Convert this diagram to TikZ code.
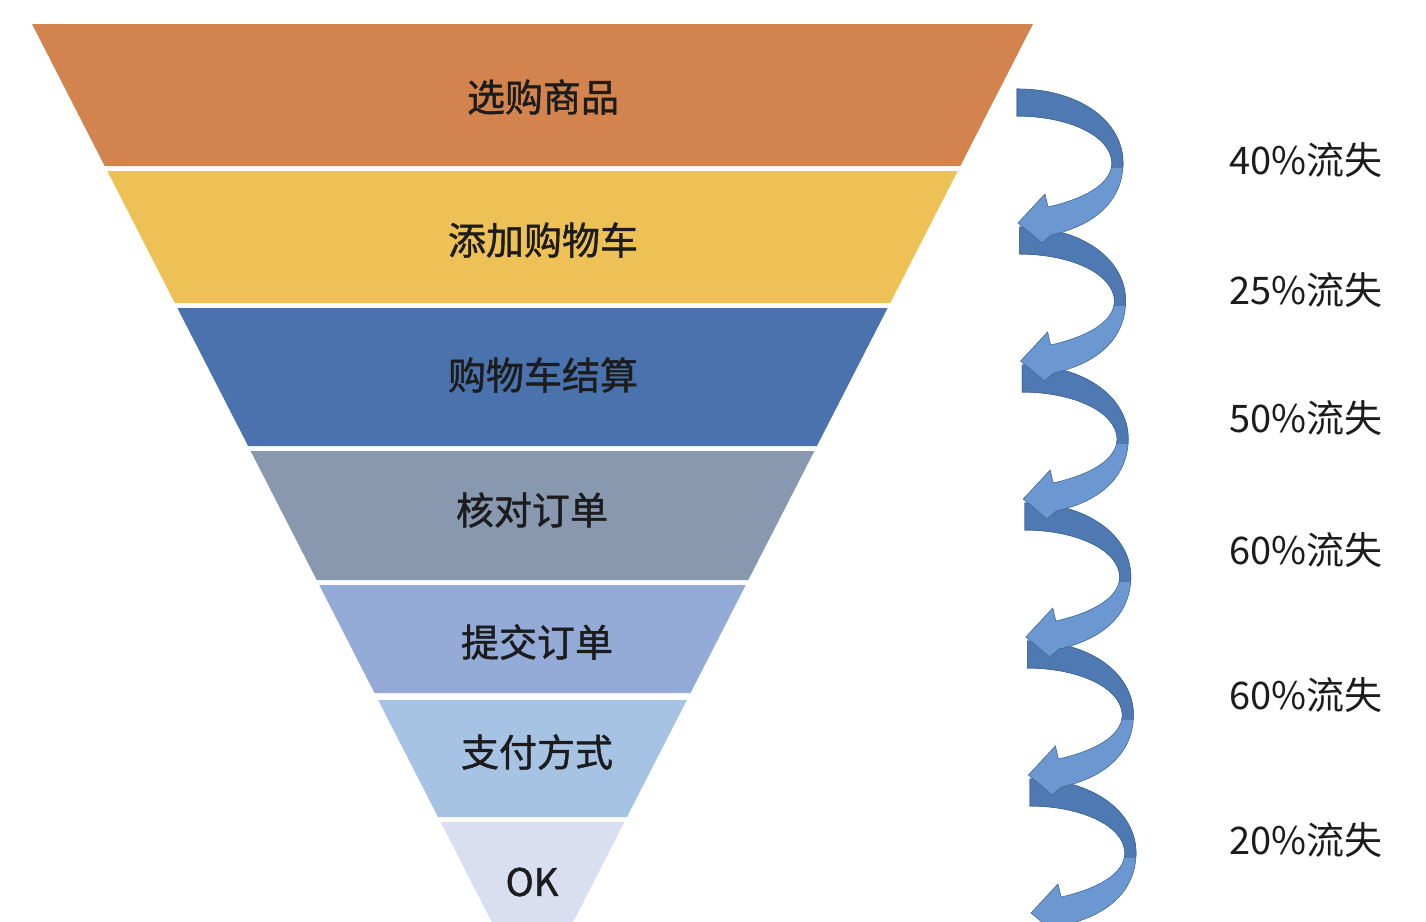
\documentclass[tikz,border=0pt]{standalone}
\usepackage{fontspec}
\newfontfamily\cjk{Noto Sans CJK SC}
\newfontfamily\cjkbold{Noto Sans CJK SC}[FakeBold=1.2]
\definecolor{stepA}{HTML}{D3834D}
\definecolor{stepB}{HTML}{EDC156}
\definecolor{stepC}{HTML}{4A73AE}
\definecolor{stepD}{HTML}{8898AF}
\definecolor{stepE}{HTML}{94AAD7}
\definecolor{stepF}{HTML}{A7C3E3}
\definecolor{stepG}{HTML}{D9DFF0}
\definecolor{arrdark}{HTML}{4E79B2}
\definecolor{arrlight}{HTML}{6C98D2}
\definecolor{txtdark}{HTML}{1C1C1C}
% one curved loss arrow, local pixel coordinates
\newcommand{\lossarrowpath}{(0,0) .. controls (62,0) and (106,32) .. (106,74)
  .. controls (106,110) and (80,136) .. (34,146) -- (25,154) -- (1,134)
  -- (28,105) -- (31,118) .. controls (66,110) and (94,96) .. (95,74)
  .. controls (94,46) and (50,27) .. (0,27) -- cycle}

\begin{document}
\begin{tikzpicture}[x=0.5pt,y=-0.5pt]
\tikzstyle {lvl}=[inner sep=0pt, text=txtdark, font=\cjkbold\fontsize{19}{19}\selectfont]
\tikzstyle {loss}=[inner sep=0pt, text=txtdark, font=\cjk\fontsize{19}{19}\selectfont, anchor=west]
\tikzstyle {arrbody}=[fill=arrlight, draw=arrdark!85!black, line width=0.3pt]
\tikzstyle {arrback}=[fill=arrdark, draw=arrdark!85!black, line width=0.3pt]
\useasboundingbox (0,0) rectangle (1426,922);
\clip (0,0) rectangle (1426,922);
% funnel layers
\fill[stepA] (32,24) -- (1033,24) -- (960.3,166) -- (104.7,166) -- cycle;
\fill[stepB] (107.3,171) -- (957.7,171) -- (890.2,303) -- (174.8,303) -- cycle;
\fill[stepC] (177.4,308) -- (887.6,308) -- (816.9,446) -- (248.1,446) -- cycle;
\fill[stepD] (250.6,451) -- (814.4,451) -- (748.3,580) -- (316.7,580) -- cycle;
\fill[stepE] (319.2,585) -- (745.8,585) -- (690.5,693) -- (374.5,693) -- cycle;
\fill[stepF] (378.1,700) -- (686.9,700) -- (627.0,817) -- (438.0,817) -- cycle;
\fill[stepG] (440.6,822) -- (624.4,822) -- (573.2,922) -- (491.8,922) -- cycle;
\node (s1) [lvl] at (543,97) {选购商品};
\node (s2) [lvl] at (543,240) {添加购物车};
\node (s3) [lvl] at (543,375) {购物车结算};
\node (s4) [lvl] at (532,510) {核对订单};
\node (s5) [lvl] at (537,642) {提交订单};
\node (s6) [lvl] at (537,752) {支付方式};
\node (s7) [lvl] at (532,882) {OK};
% loss arrows, last one first so each head lies on the next tail
\foreach \i in {5,...,0} {
  \begin{scope}[shift={(1017+2.6*\i,89+138*\i)}]
    \path[arrbody] \lossarrowpath;
    \begin{scope}
      \clip (-5,-5) rectangle (120,78);
      \path[arrback] \lossarrowpath;
    \end{scope}
  \end{scope}
}
\node (l1) [loss] at (1229,160) {40\%流失};
\node (l2) [loss] at (1229,290) {25\%流失};
\node (l3) [loss] at (1229,418) {50\%流失};
\node (l4) [loss] at (1229,550) {60\%流失};
\node (l5) [loss] at (1229,695) {60\%流失};
\node (l6) [loss] at (1229,840) {20\%流失};
\end{tikzpicture}
\end{document}
